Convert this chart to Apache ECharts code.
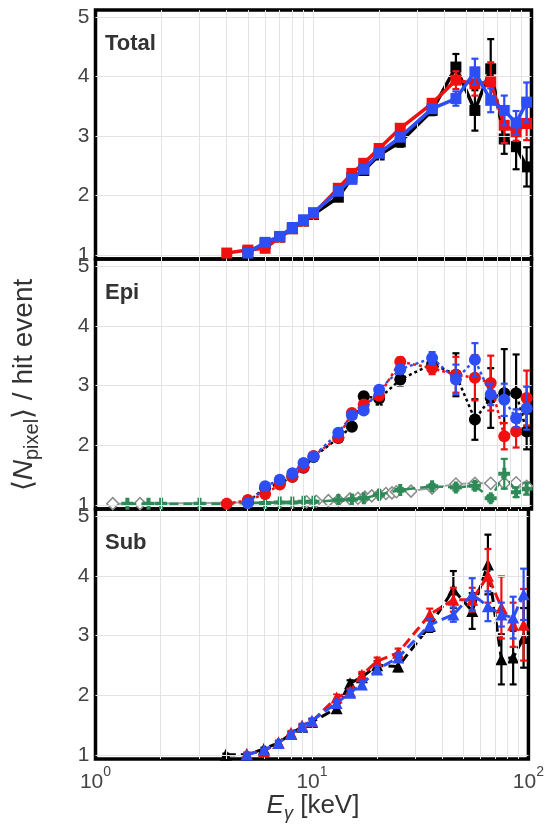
<!DOCTYPE html>
<html><head><meta charset="utf-8">
<script src="https://cdn.jsdelivr.net/npm/echarts@6/dist/echarts.min.js"></script>
<style>html,body{margin:0;padding:0;background:#fff;}#c{width:547px;height:824px;}</style>
</head><body><div id="c"></div>
<script>
// ---------- data ----------
const energies = [4,5,6,7,8,9,10,13,15,17,20,25,35,45,55,65,75,85,95];

const totalBlack    = [null,1.05,1.19,1.30,1.44,1.57,1.68,1.97,2.30,2.42,2.68,2.90,3.43,4.16,3.43,4.13,2.95,2.82,2.48];
const totalBlackErr = [null,0.02,0.02,0.02,0.03,0.03,0.03,0.04,0.05,0.05,0.06,0.08,0.08,0.22,0.34,0.50,0.25,0.38,0.33];
const totalRed      = [1.03,1.08,1.11,1.30,1.44,1.57,1.69,2.12,2.37,2.54,2.79,3.13,3.55,3.94,3.88,3.91,3.18,3.07,3.21];
const totalRedErr   = [0.02,0.02,0.02,0.02,0.03,0.03,0.03,0.04,0.04,0.05,0.05,0.06,0.07,0.15,0.20,0.33,0.30,0.15,0.28];
const totalBlue     = [null,1.03,1.21,1.31,1.46,1.59,1.71,2.07,2.27,2.44,2.71,2.98,3.46,3.63,4.08,3.60,3.43,3.22,3.57];
const totalBlueErr  = [null,0.02,0.02,0.02,0.03,0.03,0.03,0.04,0.04,0.05,0.05,0.06,0.07,0.12,0.22,0.20,0.25,0.20,0.33];

const epiBlack    = [null,1.05,1.28,1.36,1.47,1.62,1.80,2.12,2.31,2.82,2.78,3.10,3.36,3.18,2.43,2.79,2.87,2.87,2.23];
const epiBlackErr = [null,0.02,0.02,0.03,0.03,0.03,0.04,0.05,0.05,0.06,0.10,0.10,0.10,0.36,0.34,0.50,0.74,0.65,0.30];
const epiRed      = [1.02,1.08,1.18,1.34,1.47,1.63,1.82,2.13,2.54,2.68,2.83,3.40,3.29,3.18,3.13,3.04,2.15,2.23,2.79];
const epiRedErr   = [0.02,0.02,0.02,0.03,0.03,0.03,0.04,0.04,0.05,0.05,0.06,0.07,0.10,0.30,0.38,0.46,0.22,0.27,0.46];
const epiBlue     = [null,1.03,1.31,1.42,1.53,1.70,1.81,2.21,2.50,2.58,2.93,3.27,3.46,3.10,3.43,2.85,2.76,2.45,2.62];
const epiBlueErr  = [null,0.02,0.02,0.03,0.03,0.03,0.04,0.04,0.05,0.05,0.06,0.07,0.10,0.25,0.28,0.18,0.27,0.15,0.36];

const greenEnergies = [1.4,1.75,2,3,4,5,6,7,8,9,10,13,15,17,20,25,35,45,55,65,75,85,95];
const epiGreen      = [1.02,1.02,1.02,1.02,1.02,1.03,1.03,1.04,1.04,1.05,1.05,1.08,1.09,1.11,1.17,1.25,1.31,1.29,1.32,1.11,1.52,1.21,1.27];
const epiGreenErr   = [0.01,0.01,0.01,0.01,0.01,0.01,0.01,0.01,0.01,0.01,0.02,0.02,0.02,0.02,0.03,0.03,0.04,0.05,0.06,0.05,0.25,0.08,0.10];

const grayEnergies = [1.2,1.6,9.3,10.3,11.7,13,14.7,16,17.2,18.5,20,21.5,22.9,24,28,35,45,55,65,75,85,95];
const epiGray      = [1.02,1.02,1.05,1.06,1.07,1.08,1.10,1.11,1.13,1.15,1.17,1.19,1.20,1.22,1.23,1.28,1.35,1.36,1.36,1.36,1.37,1.31];

const subBlack    = [1.00,1.00,1.10,1.20,1.35,1.47,1.55,1.78,2.20,2.30,2.50,2.48,3.16,3.77,3.41,4.19,2.60,2.63,2.96];
const subBlackErr = [0.02,0.02,0.02,0.03,0.03,0.03,0.04,0.04,0.05,0.06,0.07,0.08,0.10,0.31,0.30,0.50,0.42,0.45,0.50];
const subRed      = [null,1.02,1.06,1.21,1.37,1.49,1.56,1.96,2.06,2.34,2.57,2.71,3.35,3.60,3.60,4.00,3.47,3.18,3.18];
const subRedErr   = [null,0.02,0.02,0.03,0.03,0.03,0.04,0.05,0.05,0.05,0.06,0.07,0.10,0.20,0.20,0.45,0.52,0.37,0.60];
const subBlue     = [null,1.00,1.08,1.20,1.35,1.48,1.57,1.87,2.04,2.18,2.43,2.63,3.18,3.35,3.69,3.49,3.35,3.30,3.69];
const subBlueErr  = [null,0.02,0.02,0.03,0.03,0.03,0.04,0.05,0.05,0.05,0.06,0.07,0.10,0.12,0.27,0.25,0.20,0.35,0.43];

const xGridValues = [2,3,4,5,6,7,8,9,10,20,30,40,50,60,70,80,90];
const yTickValues = [1,2,3,4,5];
const panelNames = ['Total','Epi','Sub'];

// ---------- styling ----------
const BLACK = '#000000', RED = '#f01010', BLUE = '#2d4ef5', GREEN = '#2e8b57', GRAY = '#8c8c8c';
const FONT = 'Liberation Sans, Arial, sans-serif';
const gridTops = [10, 259, 509], gridHeights = [249, 250, 250];
const Y_MIN = 0.93, Y_MAX = 5.12;

function pairs(xs, ys) {
  const out = [];
  xs.forEach((x, i) => { if (ys[i] != null) out.push([x, ys[i]]); });
  return out;
}
function errs(xs, ys, es) {
  const out = [];
  xs.forEach((x, i) => { if (ys[i] != null) out.push([x, ys[i] - es[i], ys[i] + es[i]]); });
  return out;
}
function errSeries(idx, xs, ys, es, color, z) {
  return {
    type: 'custom', xAxisIndex: idx, yAxisIndex: idx, z: z, silent: true, clip: true,
    encode: { x: 0, y: [1, 2] },
    data: errs(xs, ys, es),
    renderItem: function (params, api) {
      const x = api.value(0);
      const p1 = api.coord([x, api.value(2)]);
      const p2 = api.coord([x, api.value(1)]);
      const c = 3.5;
      const st = { stroke: color, lineWidth: 2.2 };
      return { type: 'group', children: [
        { type: 'line', shape: { x1: p1[0], y1: p1[1], x2: p2[0], y2: p2[1] }, style: st },
        { type: 'line', shape: { x1: p1[0] - c, y1: p1[1], x2: p1[0] + c, y2: p1[1] }, style: st },
        { type: 'line', shape: { x1: p2[0] - c, y1: p2[1], x2: p2[0] + c, y2: p2[1] }, style: st }
      ]};
    }
  };
}
function lineSeries(idx, xs, ys, color, symbol, lineType, z, opts) {
  opts = opts || {};
  return {
    type: 'line', xAxisIndex: idx, yAxisIndex: idx, z: z, silent: true,
    data: pairs(xs, ys), symbol: symbol, symbolSize: opts.size || 11,
    showAllSymbol: true, animation: false,
    lineStyle: { color: opts.lineColor || color, width: opts.width || 3, type: lineType },
    itemStyle: opts.hollow ? { color: '#fff', borderColor: color, borderWidth: 1.5, opacity: 1 }
                           : { color: color, borderColor: color, borderWidth: 0 }
  };
}

const grids = [], xAxes = [], yAxes = [], series = [];
for (let i = 0; i < 3; i++) {
  grids.push({ left: 95.5, width: 436, top: gridTops[i], height: gridHeights[i],
    show: true, borderColor: '#000', borderWidth: 3.5, backgroundColor: 'transparent', containLabel: false });
  xAxes.push({
    type: 'log', logBase: 10, min: 1, max: 100, gridIndex: i,
    axisLine: { show: false }, axisTick: { show: false }, splitLine: { show: false },
    axisLabel: {
      show: i === 2, margin: 6, color: '#444',
      formatter: v => '{b|10}{s|' + Math.round(Math.log10(v)) + '}',
      rich: {
        b: { fontSize: 21, fontFamily: FONT, color: '#444', lineHeight: 28, verticalAlign: 'bottom' },
        s: { fontSize: 14, fontFamily: FONT, color: '#444', lineHeight: 16, verticalAlign: 'top' }
      }
    }
  });
  yAxes.push({
    type: 'value', min: Y_MIN, max: Y_MAX, gridIndex: i,
    axisLine: { show: false }, axisTick: { show: false }, splitLine: { show: false },
    axisLabel: { customValues: yTickValues, fontSize: 21, fontFamily: FONT, color: '#444', margin: 6 }
  });
  // gridlines
  series.push({
    type: 'line', xAxisIndex: i, yAxisIndex: i, z: 0, silent: true, data: [[1, -10]], symbol: 'none',
    lineStyle: { width: 0 }, animation: false,
    markLine: {
      silent: true, symbol: ['none', 'none'], animation: false, label: { show: false },
      lineStyle: { color: '#e3e3e3', width: 1, type: 'solid' },
      data: xGridValues.map(v => ({ xAxis: v })).concat(yTickValues.map(v => ({ yAxis: v })))
    }
  });
}

// Total panel (solid, squares)
series.push(errSeries(0, energies, totalBlack, totalBlackErr, BLACK, 2));
series.push(lineSeries(0, energies, totalBlack, BLACK, 'rect', 'solid', 3, { width: 3.5 }));
series.push(errSeries(0, energies, totalRed, totalRedErr, RED, 4));
series.push(lineSeries(0, energies, totalRed, RED, 'rect', 'solid', 5, { width: 3.5 }));
series.push(errSeries(0, energies, totalBlue, totalBlueErr, BLUE, 6));
series.push(lineSeries(0, energies, totalBlue, BLUE, 'rect', 'solid', 7, { width: 3.5 }));

// Epi panel (dotted, circles) + simulated curves
series.push(lineSeries(1, grayEnergies, epiGray, GRAY, 'diamond', 'solid', 2, { hollow: true, width: 2, size: 12, lineColor: '#a0a0a0' }));
series.push(errSeries(1, greenEnergies, epiGreen, epiGreenErr, GREEN, 3));
series.push(lineSeries(1, greenEnergies, epiGreen, GREEN, 'path://M1,0H2V1H3V2H2V3H1V2H0V1H1Z', [9, 5], 3, { width: 2.5, size: 12 }));
series.push(errSeries(1, energies, epiBlack, epiBlackErr, BLACK, 4));
series.push(lineSeries(1, energies, epiBlack, BLACK, 'circle', [3, 3], 5, { width: 2.5, size: 12 }));
series.push(errSeries(1, energies, epiRed, epiRedErr, RED, 6));
series.push(lineSeries(1, energies, epiRed, RED, 'circle', [3, 3], 7, { width: 2.5, size: 12 }));
series.push(errSeries(1, energies, epiBlue, epiBlueErr, BLUE, 8));
series.push(lineSeries(1, energies, epiBlue, BLUE, 'circle', [3, 3], 9, { width: 2.5, size: 12 }));

// Sub panel (dashed, triangles)
series.push(errSeries(2, energies, subBlack, subBlackErr, BLACK, 2));
series.push(lineSeries(2, energies, subBlack, BLACK, 'triangle', [10, 5], 3, { size: 12 }));
series.push(errSeries(2, energies, subRed, subRedErr, RED, 4));
series.push(lineSeries(2, energies, subRed, RED, 'triangle', [10, 5], 5, { size: 12 }));
series.push(errSeries(2, energies, subBlue, subBlueErr, BLUE, 6));
series.push(lineSeries(2, energies, subBlue, BLUE, 'triangle', [10, 5], 7, { size: 12 }));

const graphics = panelNames.map((n, i) => ({
  type: 'text', left: 105, top: gridTops[i] + 23, z: 100,
  style: { text: n, fontSize: 22, fontWeight: 'bold', fontFamily: FONT, fill: '#333' }
}));
graphics.push({
  type: 'text', x: 313, y: 808, z: 100,
  style: {
    text: '{i|E}{sub|γ}{n| [keV]}', align: 'center', verticalAlign: 'middle',
    rich: {
      i: { fontSize: 26, fontStyle: 'italic', fontFamily: FONT, fill: '#333', verticalAlign: 'top', lineHeight: 30 },
      sub: { fontSize: 18, fontStyle: 'italic', fontFamily: FONT, fill: '#333', verticalAlign: 'bottom', lineHeight: 22, padding: [8, 0, 0, 0] },
      n: { fontSize: 26, fontFamily: FONT, fill: '#333', verticalAlign: 'top', lineHeight: 30 }
    }
  }
});
graphics.push({
  type: 'text', x: 26, y: 385, rotation: Math.PI / 2, z: 100,
  style: {
    text: '{n|⟨}{i|N}{sub|pixel}{n|⟩ / hit event}', align: 'center', verticalAlign: 'middle',
    rich: {
      i: { fontSize: 28, fontStyle: 'italic', fontFamily: FONT, fill: '#333', verticalAlign: 'top', lineHeight: 32 },
      sub: { fontSize: 20, fontFamily: FONT, fill: '#333', verticalAlign: 'bottom', lineHeight: 24, padding: [8, 0, 0, 0] },
      n: { fontSize: 28, fontFamily: FONT, fill: '#333', verticalAlign: 'top', lineHeight: 32 }
    }
  }
});

const chart = echarts.init(document.getElementById('c'), null, { renderer: 'canvas' });
chart.setOption({
  animation: false, backgroundColor: '#fff',
  grid: grids, xAxis: xAxes, yAxis: yAxes, series: series, graphic: graphics
});
</script></body></html>
